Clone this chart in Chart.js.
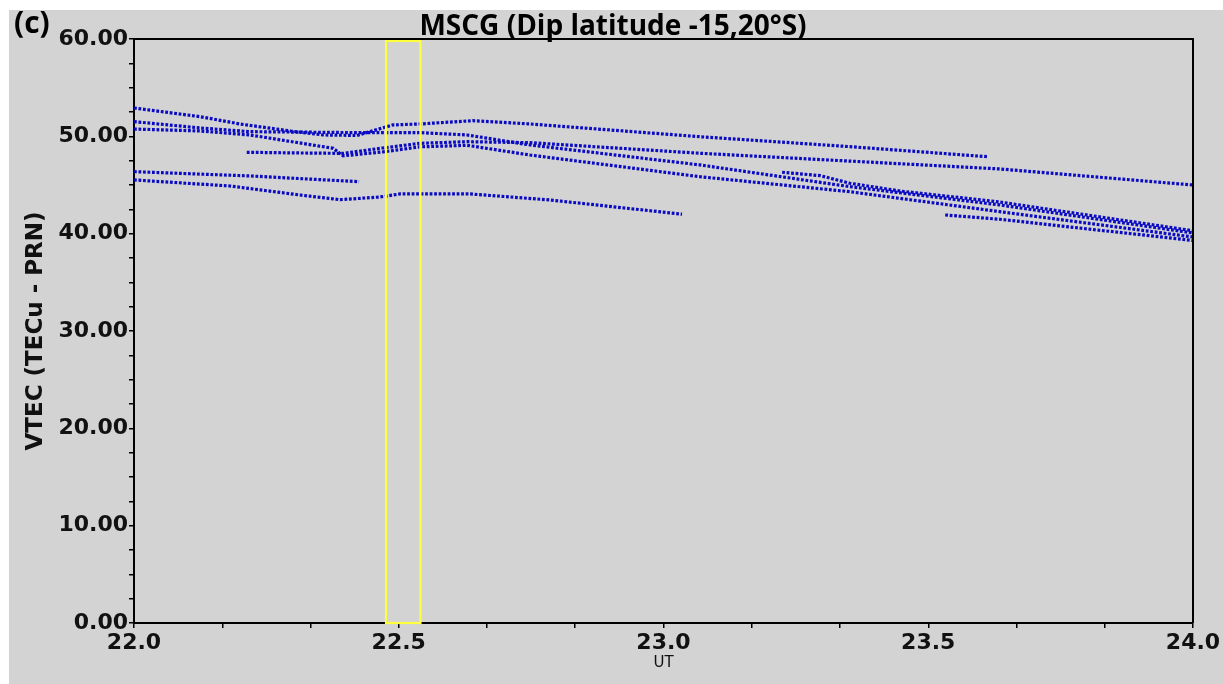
<!DOCTYPE html>
<html><head><meta charset="utf-8">
<script src="https://cdn.jsdelivr.net/npm/chart.js@4.4.1/dist/chart.umd.min.js"></script>
<style>
html,body{margin:0;padding:0;background:#fff;width:1223px;height:684px;overflow:hidden}
#wrap{position:absolute;left:9px;top:10px;width:1214px;height:674px;background:#d3d3d3}
canvas{display:block}
</style></head><body>
<div id="wrap"><canvas id="c" width="1214" height="674"></canvas></div>
<script>
// ---- text ----
const chartTitle = 'MSCG (Dip latitude -15,20°S)';
const panelLabel = '(c)';
const yAxisTitle = 'VTEC (TECu - PRN)';
const xAxisTitle = 'UT';
const xMajorLabels = ['22.0', '22.5', '23.0', '23.5', '24.0'];
const yMajorLabels = ['0.00', '10.00', '20.00', '30.00', '40.00', '50.00', '60.00'];

// ---- highlighted window (UT hours, VTEC range) ----
const highlightUT = [22.476, 22.541];
const highlightVTEC = [0, 59.8];

// ---- satellite tracks: [UT hour, VTEC] vertices ----
const track1 = [[22.0,52.91],[22.125,52.02],[22.2,51.27],[22.295,50.55],[22.357,50.14],[22.421,50.09],[22.489,51.17],[22.54,51.27],[22.64,51.61],[22.748,51.27],[23.069,49.96],[23.352,48.94],[23.611,47.91]];
const track2 = [[22.213,48.36],[22.314,48.29],[22.395,48.25],[22.47,48.8],[22.54,49.28],[22.629,49.45],[22.748,49.35],[23.069,48.26],[23.635,46.65],[24.0,45.0]];
const track3 = [[22.0,51.51],[22.125,50.86],[22.219,50.48],[22.421,50.38],[22.478,50.38],[22.54,50.38],[22.629,50.14],[22.748,49.11],[23.069,47.06],[23.352,44.83],[23.635,42.95],[24.0,40.07]];
const track4 = [[22.0,50.75],[22.125,50.55],[22.219,50.14],[22.376,48.77],[22.395,48.0],[22.47,48.4],[22.54,48.92],[22.629,49.08],[22.748,48.08],[23.069,45.85],[23.352,44.31],[23.635,42.26],[24.0,39.66]];
const track5 = [[22.0,46.37],[22.219,45.93],[22.425,45.34]];
const track6 = [[22.0,45.52],[22.181,44.9],[22.314,43.97],[22.389,43.49],[22.465,43.77],[22.502,44.08],[22.635,44.08],[22.786,43.46],[23.035,42.0]];
const track7 = [[23.224,46.31],[23.296,45.96],[23.352,45.18],[23.447,44.38],[23.635,43.25],[24.0,40.3]];
const track8 = [[23.532,41.92],[23.635,41.48],[24.0,39.3]];

const tracks = [track1, track2, track3, track4, track5, track6, track7, track8];
const dotColor = 'rgb(10,10,195)';

const toXY = a => a.map(([x, y]) => ({x, y}));

const notesPlugin = {
  id: 'notes',
  afterDatasetsDraw(chart) {
    const {ctx, scales: {x, y}} = chart;
    const x0 = x.getPixelForValue(highlightUT[0]);
    const x1 = x.getPixelForValue(highlightUT[1]);
    const y0 = y.getPixelForValue(highlightVTEC[1]);
    const y1 = y.getPixelForValue(highlightVTEC[0]);
    ctx.save();
    ctx.strokeStyle = 'rgb(255,255,60)';
    ctx.lineWidth = 2.2;
    ctx.strokeRect(x0, y0, x1 - x0, y1 - y0);
    ctx.restore();
  },
  afterDraw(chart) {
    const {ctx, chartArea: a} = chart;
    ctx.save();
    ctx.strokeStyle = '#000';
    ctx.lineWidth = 2;
    ctx.beginPath();
    ctx.moveTo(a.left, a.top); ctx.lineTo(a.right, a.top); ctx.lineTo(a.right, a.bottom);
    ctx.stroke();
    ctx.fillStyle = '#000';
    ctx.textBaseline = 'alphabetic';
    ctx.textAlign = 'center';
    ctx.font = 'bold 28px "Open Sans"';
    ctx.fillText(chartTitle, 604, 25);
    ctx.textAlign = 'left';
    ctx.font = 'bold 30px "Open Sans"';
    ctx.fillText(panelLabel, 5, 23);
    ctx.restore();
  }
};

new Chart(document.getElementById('c'), {
  type: 'line',
  data: {
    datasets: tracks.map((t, i) => ({
      label: 'PRN ' + (i + 1),
      data: toXY(t),
      borderColor: dotColor,
      borderWidth: 3.2,
      borderDash: [2.8, 1.7],
      borderCapStyle: 'butt',
      pointRadius: 0,
      tension: 0,
      fill: false
    }))
  },
  options: {
    responsive: false,
    animation: false,
    devicePixelRatio: 1,
    layout: {padding: {top: 29, right: 30, left: 0, bottom: 0}},
    plugins: {legend: {display: false}, tooltip: {enabled: false}, title: {display: false}},
    scales: {
      x: {
        type: 'linear', min: 22, max: 24,
        afterFit(s) { s.height = 61; },
        afterBuildTicks(s) { s.ticks = Array.from({length: 13}, (_, i) => ({value: 22 + i / 6})); },
        ticks: {
          autoSkip: false, maxRotation: 0, padding: 2, color: '#111',
          font: {family: '"DejaVu Sans"', weight: 'bold', size: 22},
          callback(v) {
            const lab = xMajorLabels.find(l => Math.abs(parseFloat(l) - v) < 1e-6);
            return lab || '';
          }
        },
        grid: {drawOnChartArea: false, drawTicks: true, tickLength: 5, color: '#000', lineWidth: 1.5},
        border: {color: '#000', width: 2},
        title: {display: true, text: xAxisTitle, color: '#111', font: {family: '"DejaVu Sans"', size: 15}, padding: {top: 0, bottom: 12}}
      },
      y: {
        type: 'linear', min: 0, max: 60,
        afterFit(s) { s.width = 125; },
        ticks: {
          stepSize: 2.5, autoSkip: false, padding: 1, color: '#111',
          font: {family: '"DejaVu Sans"', weight: 'bold', size: 22},
          callback(v) {
            const lab = yMajorLabels.find(l => Math.abs(parseFloat(l) - v) < 1e-6);
            return lab || '';
          }
        },
        grid: {drawOnChartArea: false, drawTicks: true, tickLength: 5, color: '#000', lineWidth: 1.5},
        border: {color: '#000', width: 2},
        title: {display: true, text: yAxisTitle, color: '#111', font: {family: '"DejaVu Sans"', weight: 'bold', size: 23}, padding: {top: 13, bottom: 0}}
      }
    }
  },
  plugins: [notesPlugin]
});
</script>
</body></html>
